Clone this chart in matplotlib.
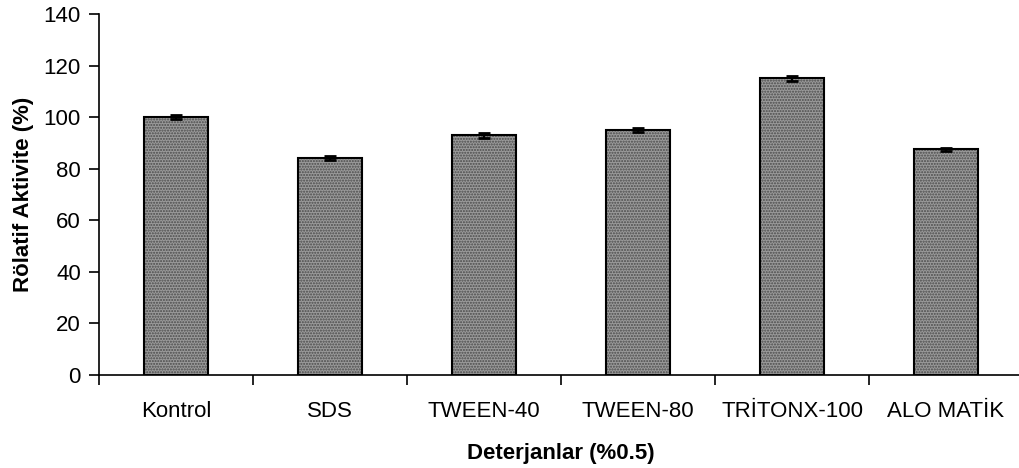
import matplotlib.pyplot as plt
import numpy as np

plt.rcParams['font.family'] = ['Liberation Sans', 'DejaVu Sans']

categories = ['Kontrol', 'SDS', 'TWEEN-40', 'TWEEN-80', 'TRİTONX-100', 'ALO MATİK']
activity = [100, 84, 93, 95, 115, 87.5]
errors = [0.8, 0.8, 1.0, 0.6, 0.8, 0.5]

fig = plt.figure(figsize=(10.19, 4.68), dpi=100)
ax = fig.add_axes([99 / 1019, 93 / 468, 924 / 1019, 361 / 468])

x = np.arange(len(categories))
# hatched gray fill, then black outline on top
ax.bar(x, activity, width=0.42, color='#9a9a9a', hatch='......',
       edgecolor='#4a4a4a', linewidth=0, zorder=2)
ax.bar(x, activity, width=0.42, fill=False, edgecolor='black',
       linewidth=1.5, zorder=3)
ax.errorbar(x, activity, yerr=errors, fmt='none', ecolor='black',
            elinewidth=1.5, capsize=4.5, capthick=2, zorder=4)

ax.set_xlim(-0.5, len(categories) - 0.5)
ax.set_ylim(0, 140)
ax.set_yticks(np.arange(0, 141, 20))
ax.set_xticks(np.arange(-0.5, len(categories), 1))
ax.set_xticklabels([])
ax.set_xticks(x, minor=True)
ax.set_xticklabels(categories, minor=True)
ax.tick_params(axis='x', which='minor', length=0, pad=19, labelsize=16)
ax.tick_params(axis='x', which='major', length=7, width=1.2, direction='out')
ax.tick_params(axis='y', length=7, width=1.2, labelsize=16, pad=6)

for s in ['top', 'right']:
    ax.spines[s].set_visible(False)
for s in ['left', 'bottom']:
    ax.spines[s].set_linewidth(1.2)

ax.set_xlabel('Deterjanlar (%0.5)', fontsize=16, fontweight='bold', labelpad=15)
ax.set_ylabel('Rölatif Aktivite (%)', fontsize=16, fontweight='bold', labelpad=7)

fig.savefig('out.png', dpi=100)
